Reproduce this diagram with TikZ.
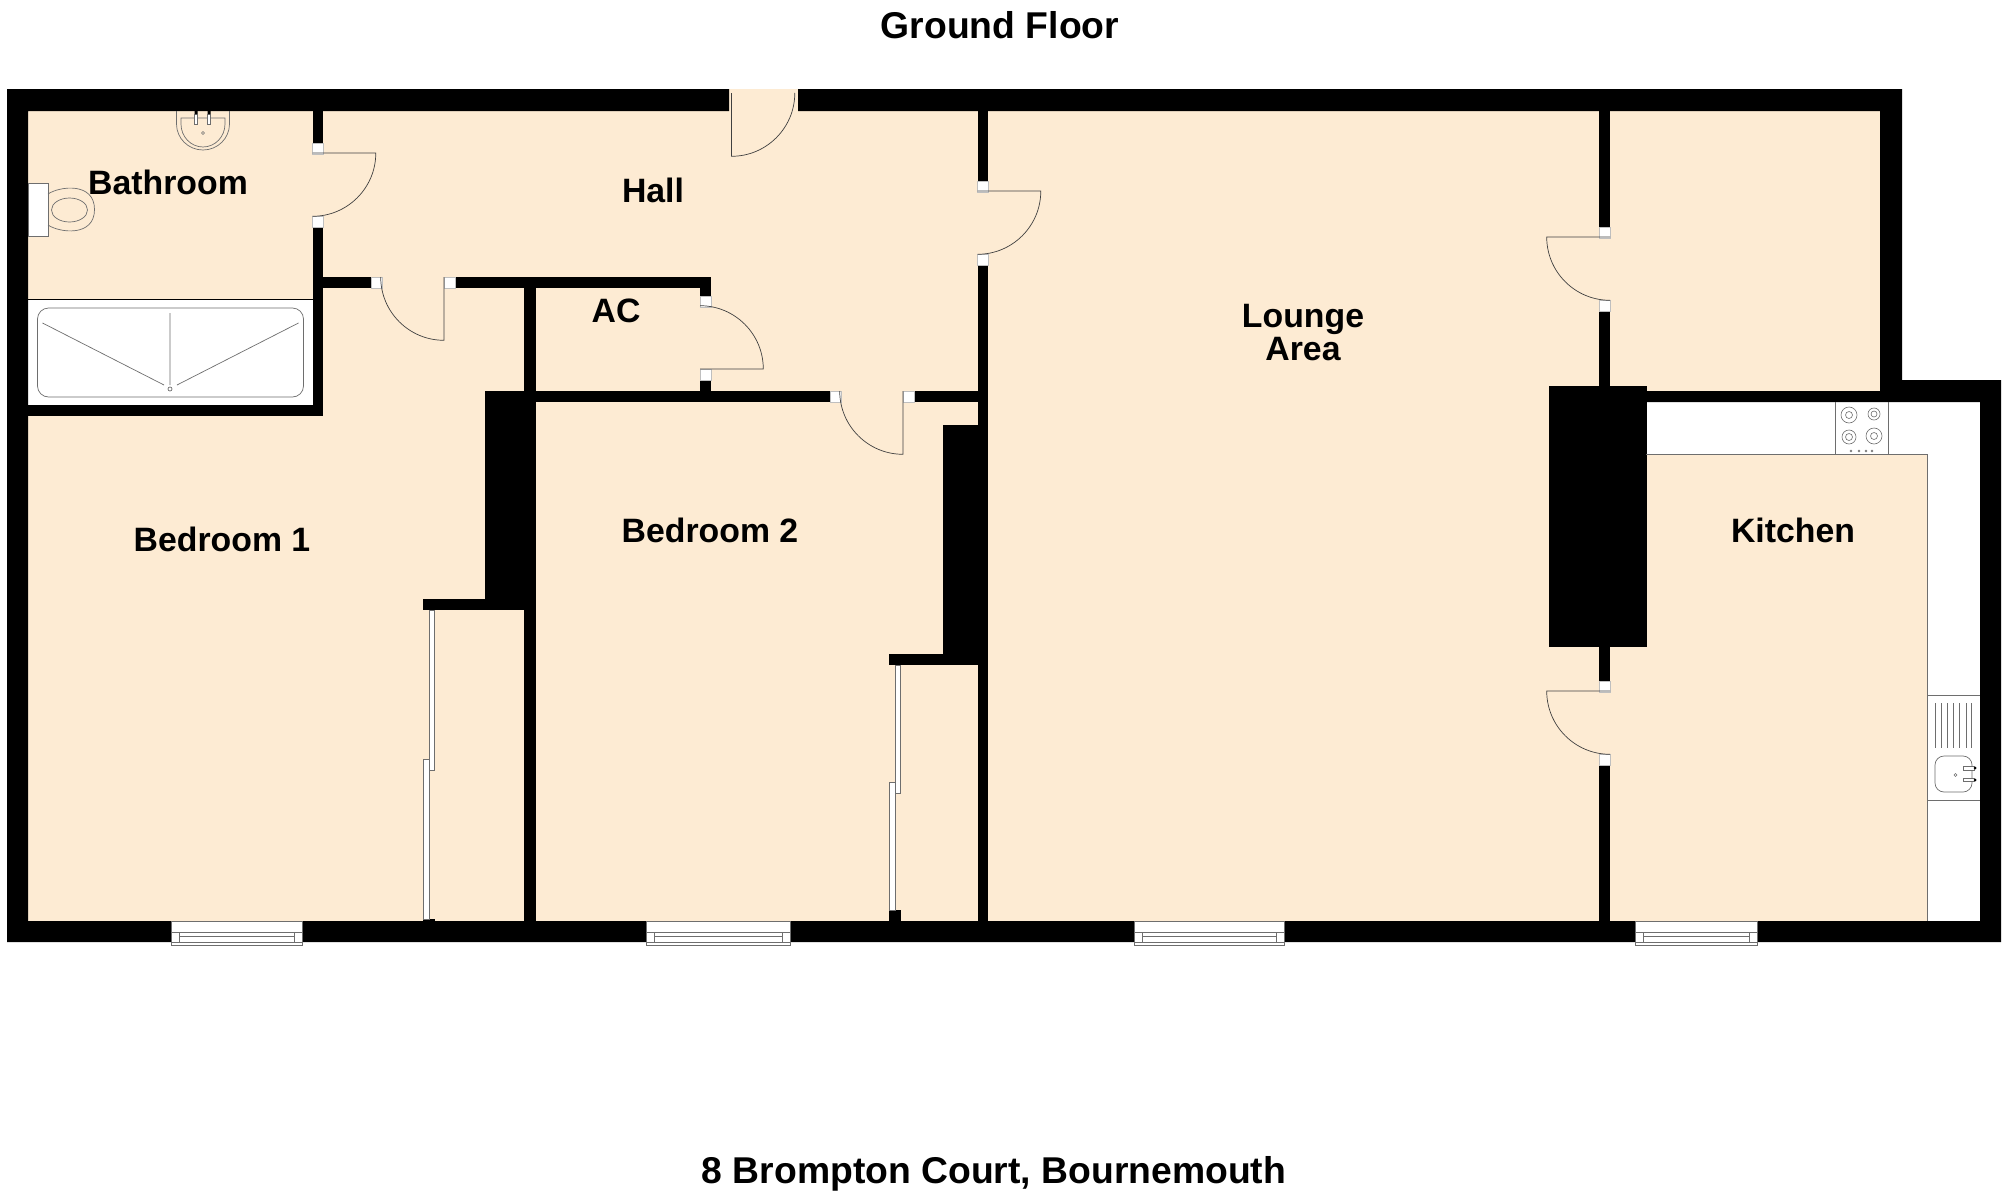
\documentclass[tikz,border=0pt]{standalone}
\usepackage{fontspec}
\setmainfont{Liberation Sans}
\definecolor{roomcream}{HTML}{FDEBD3}
\definecolor{fitline}{HTML}{6E6E6E}
\tikzset{
    wall/.style={fill=black},
    room/.style={fill=roomcream},
    unit/.style={fill=white},
    fit/.style={draw=fitline, line width=0.7pt},
    jamb/.style={fill=white, draw=black!25, line width=0.3pt},
    doorleaf/.style={draw=black!75, line width=0.7pt},
    roomlabel/.style={font=\fontsize{33.8}{36}\bfseries\selectfont, align=center},
    titlelabel/.style={font=\fontsize{37.3}{40}\bfseries\selectfont},
}
% one door: hinge, direction of the leaf, direction of the swing end
\newcommand{\doorswing}[3]{
    \draw[doorleaf] (#1) -- ++(#2:63.3pt) arc[start angle=#2, delta angle=#3, radius=63.3pt];
}
\newcommand{\windowunit}[2]{
    \filldraw[fit, fill=white] (#1,921) rectangle (#2,945);
    \draw[fit] (#1,932) -- (#2,932) (#1,942) -- (#2,942);
    \draw[fit] (#1+8,932) -- (#1+8,942) (#2-8,932) -- (#2-8,942) (#1+8,936) -- (#2-8,936);
}
\begin{document}
\begin{tikzpicture}[x=1pt,y=-1pt]
    \useasboundingbox (0,0) rectangle (2008,1191);
    % rooms
    \fill[room] (7,89) rectangle (1902,942);
    \fill[room] (1610,380) rectangle (2001,942);
    % fitted units
    \fill[unit] (1646,402) rectangle (1980,454);
    \fill[unit] (1927,454) rectangle (1980,921);
    \fill[unit] (28,299) rectangle (313,405);
    % walls, outer
    \fill[wall] (7,89) -- (729,89) -- (729,111) -- (28,111) -- (28,921) -- (1980,921) -- (1980,402)
        -- (1610,402) -- (1610,391) -- (1880,391) -- (1880,111) -- (798,111) -- (798,89) -- (1902,89)
        -- (1902,380) -- (2001,380) -- (2001,942) -- (7,942) -- cycle;
    % walls, inner
    \fill[wall] (312.5,111) rectangle (323,153);
    \fill[wall] (312.5,216) rectangle (323,416);
    \fill[wall] (28,405) rectangle (323,416);
    \fill[wall] (323,277) rectangle (371,288);
    \fill[wall] (454,277) rectangle (711,288);
    \fill[wall] (700,277) rectangle (711,306);
    \fill[wall] (700,369) rectangle (711,391);
    \fill[wall] (524,288) rectangle (535.5,921);
    \fill[wall] (485,391) rectangle (535.5,610);
    \fill[wall] (423,599) rectangle (535.5,610);
    \fill[wall] (423,919) rectangle (434.5,921);
    \fill[wall] (524,391) rectangle (830,402);
    \fill[wall] (914,391) rectangle (988,402);
    \fill[wall] (977.5,111) rectangle (988,191);
    \fill[wall] (977.5,254) rectangle (988,921);
    \fill[wall] (943,425) rectangle (988,665);
    \fill[wall] (889,654) rectangle (988,665);
    \fill[wall] (889,910) rectangle (900.5,921);
    \fill[wall] (1599,111) rectangle (1610,237);
    \fill[wall] (1599,300) rectangle (1610,391);
    \fill[wall] (1549,386) rectangle (1647,647);
    \fill[wall] (1599,647) rectangle (1610,691);
    \fill[wall] (1599,754) rectangle (1610,921);
    % door jambs
    \foreach \jx/\jy in {312.5/143,312.5/216,371/277,444/277,700/296,700/369,830/391,903/391,977.5/181,977.5/254,1599/227,1599/300,1599/681,1599/754}
        \filldraw[jamb] (\jx,\jy) rectangle ++(10.7,10.7);
    % doors
    \doorswing{731.5,93}{270}{90}
    \doorswing{312.5,153}{0}{-90}
    \doorswing{444,277}{270}{-90}
    \doorswing{700,369}{0}{90}
    \doorswing{903,391}{270}{-90}
    \doorswing{977.5,191}{0}{-90}
    \doorswing{1610,237}{180}{90}
    \doorswing{1610,691}{180}{90}
    % sliding doors
    \filldraw[fit, fill=white] (429,610) rectangle (434.5,770);
    \filldraw[fit, fill=white] (423,759) rectangle (429,919);
    \filldraw[fit, fill=white] (895,665) rectangle (900.5,793);
    \filldraw[fit, fill=white] (889,782) rectangle (895,910);
    % windows
    \windowunit{171}{302}
    \windowunit{646}{790}
    \windowunit{1134}{1284}
    \windowunit{1635}{1757}
    % bath
    \draw[draw=black, line width=0.9pt] (28,299) -- (312.5,299);
    \draw[fit, rounded corners=11pt] (37.5,308) rectangle (303.5,397);
    \draw[fit] (170,313) -- (170,385) (42.5,323) -- (164,385) (298.5,323) -- (177,385);
    \draw[fit] (170,389) circle[radius=2pt];
    % basin
    \draw[fit] (176.5,111) -- (176.5,124) arc[start angle=180, end angle=360, x radius=26.5pt, y radius=26pt] -- (229.5,111);
    \draw[fit] (181,118) -- (225,118) -- (225,124) arc[start angle=360, end angle=180, x radius=22pt, y radius=23pt] -- cycle;
    \filldraw[fit, fill=white] (194.5,114) rectangle (197.5,124);
    \filldraw[fit, fill=white] (207.5,114) rectangle (210.5,124);
    \fill[black] (194.5,111) rectangle (197.5,114) (207.5,111) rectangle (210.5,114);
    \draw[fit] (203,133) circle[radius=1.5pt];
    % wc
    \draw[fit, fill=white] (28,183) rectangle (48,236);
    \draw[fit] (48,194) .. controls (60,186) and (94.5,182) .. (94.5,209.5) .. controls (94.5,237) and (60,233) .. (48,225);
    \draw[fit] (69.5,210) circle[x radius=18pt, y radius=12pt];
    % hob
    \draw[fit] (1835,402) -- (1835,454) (1888,402) -- (1888,454);
    \draw[fit] (1646,454) -- (1927,454) -- (1927,921);
    \foreach \hx/\hy/\hr/\hs in {1849/415/8/3.5,1874/414/6/3,1849/437/7/3.5,1874/436/8/3.5}
        \draw[fit, line width=0.6pt] (\hx,\hy) circle[radius=\hr pt] (\hx,\hy) circle[radius=\hs pt];
    \foreach \dx in {1851,1859,1866,1872}
        \draw[fit, line width=0.6pt] (\dx,451) circle[radius=1pt];
    % kitchen sink
    \draw[fit] (1927,695) -- (1980,695) (1927,800) -- (1980,800);
    \foreach \dx in {1935,1941,1947.5,1953.5,1959.5,1966,1971.5}
        \draw[fit] (\dx,703) -- (\dx,748);
    \draw[fit, rounded corners=9pt] (1935,756) rectangle (1972,792);
    \filldraw[fit, fill=white] (1963,766.5) rectangle (1974,770);
    \filldraw[fit, fill=white] (1963,778) rectangle (1974,781.5);
    \fill[black] (1975,768) circle[radius=1.5pt] (1975,780) circle[radius=1.5pt];
    \draw[fit, line width=0.6pt] (1955.5,775) circle[radius=1.5pt];
    % labels
    \node[titlelabel] (groundfloor) at (1000,25) {Ground Floor};
    \node[roomlabel] (bathroom) at (168,182) {Bathroom};
    \node[roomlabel] (hall) at (653,190) {Hall};
    \node[roomlabel] (ac) at (616,311) {AC};
    \node[roomlabel] (lounge) at (1303,333) {Lounge\\[-3pt]Area};
    \node[roomlabel] (bedone) at (222,539) {Bedroom 1};
    \node[roomlabel] (bedtwo) at (710,530) {Bedroom 2};
    \node[roomlabel] (kitchen) at (1793,530) {Kitchen};
    \node[titlelabel] (address) at (994,1174) {8 Brompton Court, Bournemouth};
\end{tikzpicture}
\end{document}
